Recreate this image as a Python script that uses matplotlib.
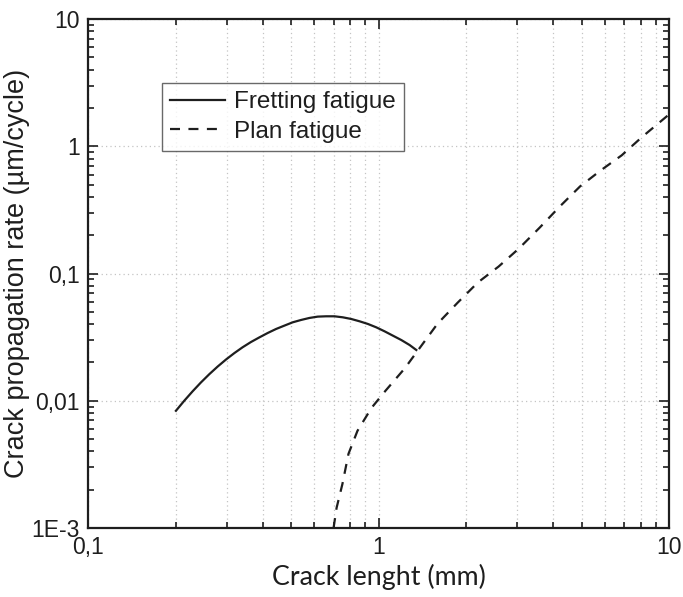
import matplotlib
matplotlib.use("Agg")
import matplotlib.pyplot as plt
from matplotlib.ticker import LogLocator, FixedLocator, FixedFormatter, NullFormatter

# crack length (mm) and propagation rate (um/cycle)
fretting_a = [0.2006, 0.2143, 0.2290, 0.2446, 0.2614, 0.2793, 0.2984, 0.3188,
              0.3404, 0.3638, 0.3888, 0.4154, 0.4438, 0.4741, 0.5065, 0.5412,
              0.5782, 0.6177, 0.6600, 0.7050, 0.7533, 0.8050, 0.8603, 0.9188,
              0.9817, 1.0488, 1.1205, 1.1974, 1.279, 1.349]
fretting_rate = [0.00834, 0.0100, 0.01187, 0.01393, 0.01618, 0.01858, 0.02110,
                 0.02370, 0.02634, 0.02897, 0.03150, 0.03411, 0.03667, 0.03897,
                 0.04138, 0.04317, 0.04477, 0.04586, 0.04613, 0.04613, 0.04528,
                 0.04395, 0.04213, 0.04016, 0.03779, 0.03515, 0.03249, 0.03003,
                 0.02743, 0.02506]

plain_a = [0.700, 0.717, 0.751, 0.788, 0.846, 0.946, 1.057, 1.229, 1.396, 1.597,
           1.873, 2.195, 2.59, 3.04, 3.59, 4.21, 4.94, 5.82, 6.87, 8.06, 10.0]
plain_rate = [0.0010, 0.00144, 0.00222, 0.00383, 0.0058, 0.0088, 0.0120, 0.0179,
              0.0266, 0.0404, 0.0591, 0.0849, 0.1135, 0.157, 0.230, 0.337, 0.484,
              0.647, 0.849, 1.18, 1.78]

x_ticks = [0.1, 1, 10]
x_labels = ["0,1", "1", "10"]
y_ticks = [1e-3, 1e-2, 1e-1, 1, 10]
y_labels = ["1E-3", "0,01", "0,1", "1", "10"]

plt.rcParams["font.family"] = ["Liberation Sans", "DejaVu Sans"]

fig = plt.figure(figsize=(6.83, 5.97), dpi=100)
ax = fig.add_axes([0.129, 0.1156, 0.8505, 0.8524])

ink = "#1e1e1e"
ax.plot(fretting_a, fretting_rate, color=ink, lw=1.6, label="Fretting fatigue")
ax.plot(plain_a, plain_rate, color=ink, lw=1.6, dashes=(4.5, 3.8), label="Plan fatigue")

ax.set_xscale("log")
ax.set_yscale("log")
ax.set_xlim(0.1, 10)
ax.set_ylim(1e-3, 10)

ax.xaxis.set_major_locator(FixedLocator(x_ticks))
ax.xaxis.set_major_formatter(FixedFormatter(x_labels))
ax.yaxis.set_major_locator(FixedLocator(y_ticks))
ax.yaxis.set_major_formatter(FixedFormatter(y_labels))
ax.xaxis.set_minor_locator(LogLocator(base=10, subs=range(2, 10), numticks=20))
ax.yaxis.set_minor_locator(LogLocator(base=10, subs=range(2, 10), numticks=20))
ax.xaxis.set_minor_formatter(NullFormatter())
ax.yaxis.set_minor_formatter(NullFormatter())

ax.tick_params(which="both", direction="in", top=True, right=True, colors=ink,
               labelsize=16.5, width=1.2)
ax.tick_params(which="major", length=7, pad=6)
ax.tick_params(which="minor", length=4)

for s in ax.spines.values():
    s.set_linewidth(1.6)
    s.set_color(ink)

# dotted grid: every x tick, only decades on y
grid_kw = dict(color="#c4c4c4", lw=0.9, linestyle=(0, (1, 2.5)))
ax.grid(True, which="both", axis="x", **grid_kw)
ax.grid(True, which="major", axis="y", **grid_kw)

ax.set_xlabel("Crack lenght (mm)", family=["Lato", "DejaVu Sans"], fontsize=19.3,
              color=ink, labelpad=3)
ax.set_ylabel("Crack propagation rate (µm/cycle)", fontsize=19.5, color=ink, labelpad=1)

leg = ax.legend(loc="upper left", bbox_to_anchor=(0.127, 0.875), fontsize=17.5,
                frameon=True, fancybox=False, handlelength=2.25, handletextpad=0.37,
                borderpad=0.35, labelspacing=0.3, borderaxespad=0)
leg.get_frame().set_edgecolor("#444444")
leg.get_frame().set_linewidth(1.0)
for t in leg.get_texts():
    t.set_color(ink)

fig.savefig("out.png", dpi=100)
